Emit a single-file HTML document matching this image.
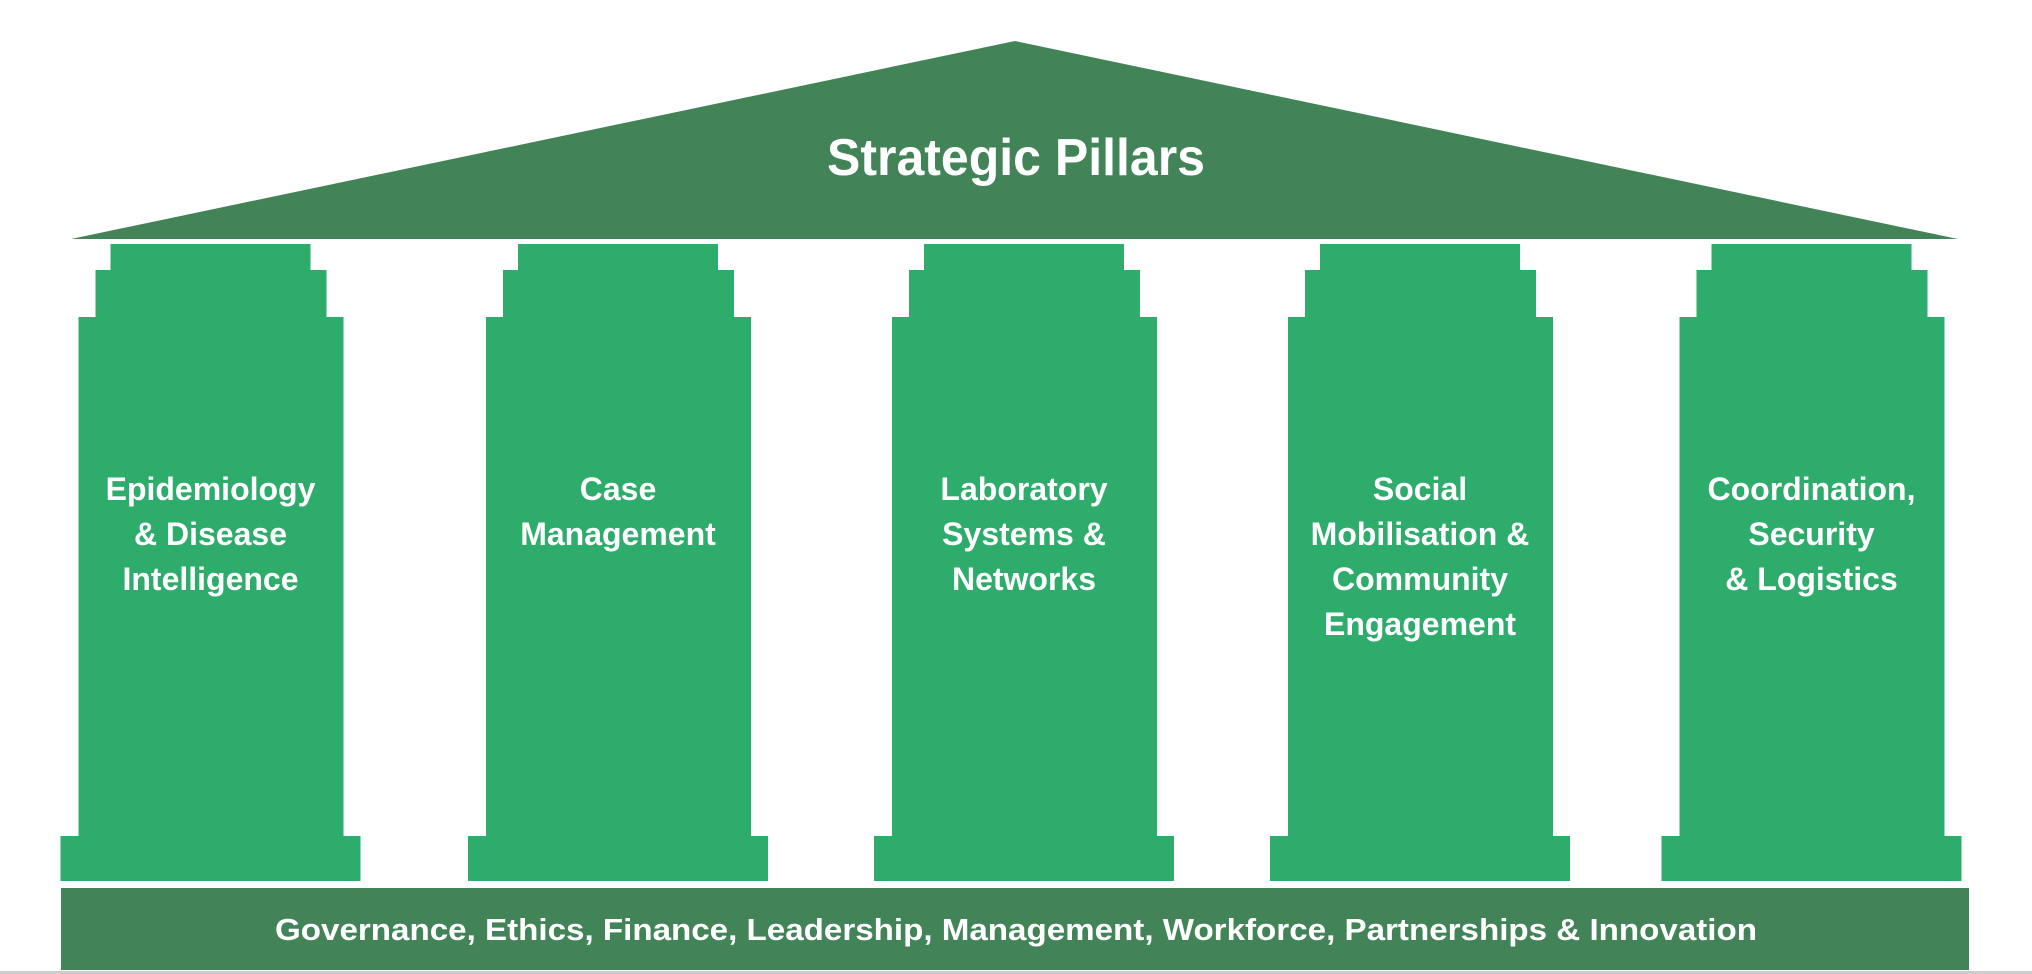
<!DOCTYPE html>
<html><head><meta charset="utf-8"><style>
html,body{margin:0;padding:0;background:#fff;}
svg{display:block;}
text{font-family:"Liberation Sans",sans-serif;font-weight:bold;fill:#fff;}
</style></head><body>
<svg width="2032" height="974" viewBox="0 0 2032 974" xmlns="http://www.w3.org/2000/svg">
<rect x="0" y="0" width="2032" height="974" fill="#fff"/>
<polygon points="71,239 1015,41 1958,239" fill="#428457"/>
<text x="1016" y="175" font-size="52" text-anchor="middle" textLength="378" lengthAdjust="spacingAndGlyphs">Strategic Pillars</text>
<defs>
<g id="p">
<rect x="-100" y="244" width="200" height="27" fill="#2eac6c"/>
<rect x="-115" y="270" width="231" height="48" fill="#2eac6c"/>
<rect x="-132" y="317" width="265" height="520" fill="#2eac6c"/>
<rect x="-150" y="836" width="300" height="45" fill="#2eac6c"/>
</g>
</defs>
<use href="#p" x="210.5"/>
<use href="#p" x="618"/>
<use href="#p" x="1024"/>
<use href="#p" x="1420"/>
<use href="#p" x="1811.5"/>
<g font-size="32" text-anchor="middle">
<text x="210.5" y="500">Epidemiology</text>
<text x="210.5" y="545">&amp; Disease</text>
<text x="210.5" y="590">Intelligence</text>
<text x="618" y="500">Case</text>
<text x="618" y="545">Management</text>
<text x="1024" y="500">Laboratory</text>
<text x="1024" y="545">Systems &amp;</text>
<text x="1024" y="590">Networks</text>
<text x="1420" y="500">Social</text>
<text x="1420" y="545">Mobilisation &amp;</text>
<text x="1420" y="590">Community</text>
<text x="1420" y="635">Engagement</text>
<text x="1811.5" y="500">Coordination,</text>
<text x="1811.5" y="545">Security</text>
<text x="1811.5" y="590">&amp; Logistics</text>
</g>
<rect x="61" y="888" width="1908" height="82" fill="#428457"/>
<text x="1016" y="940" font-size="31" text-anchor="middle" textLength="1482" lengthAdjust="spacingAndGlyphs">Governance, Ethics, Finance, Leadership, Management, Workforce, Partnerships &amp; Innovation</text>
<rect x="0" y="971" width="2032" height="3" fill="#cccccc"/>
</svg>
</body></html>
